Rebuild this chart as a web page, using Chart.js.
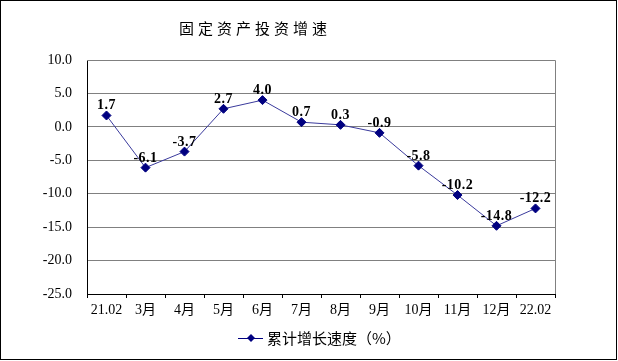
<!DOCTYPE html>
<html>
<head>
<meta charset="utf-8">
<script src="https://cdn.jsdelivr.net/npm/chart.js@4"></script>
<style>
  html, body { margin: 0; padding: 0; background: #fff; }
  .wrap { position: relative; width: 618px; height: 361px; }
  .frame { position: absolute; left: 0; top: 0; width: 617px; height: 360px; border: 1px solid #000; box-sizing: border-box; pointer-events: none; }
</style>
</head>
<body>
<div class="wrap">
  <canvas id="main-chart" width="618" height="361"></canvas>
  <div class="frame"></div>
</div>
<script>
// ---- Data ----
const categories = ['21.02', '3月', '4月', '5月', '6月', '7月', '8月', '9月', '10月', '11月', '12月', '22.02'];
const growth     = [1.7, -6.1, -3.7, 2.7, 4.0, 0.7, 0.3, -0.9, -5.8, -10.2, -14.8, -12.2];
const yTicks     = [10, 5, 0, -5, -10, -15, -20, -25];
const chartTitle = '固定资产投资增速';
const seriesName = '累计增长速度（%）';

const SERIF = "'Liberation Serif', 'Noto Sans CJK SC', serif";
const CJK   = "'Noto Sans CJK SC', sans-serif";
const LINE_COL = '#3a3a9c';
const MARK_COL = '#000080';

const canvas = document.getElementById('main-chart');

new Chart(canvas, {
  type: 'line',
  data: {
    labels: categories,
    datasets: [{
      label: seriesName,
      data: growth,
      borderColor: LINE_COL,
      borderWidth: 1,
      pointStyle: 'rectRot',
      pointRadius: 4.5,
      pointBackgroundColor: MARK_COL,
      pointBorderColor: MARK_COL,
      pointBorderWidth: 1,
      tension: 0,
    }]
  },
  options: {
    responsive: false,
    animation: false,
    devicePixelRatio: 1,
    layout: { padding: { left: 0, right: 63, top: 60, bottom: 37 } },
    plugins: {
      legend: { display: false },
      title: { display: false },
      tooltip: { enabled: false },
    },
    scales: {
      x: {
        offset: true,
        afterFit: s => { s.height = 30; },
        border: { display: true, color: '#000', width: 1 },
        grid: { offset: true, drawOnChartArea: false, drawTicks: true, tickLength: 4, color: '#000' },
        ticks: { color: '#000', font: { family: SERIF, size: 14 }, padding: 4, maxRotation: 0, autoSkip: false },
      },
      y: {
        min: -25, max: 10,
        afterFit: s => { s.width = 87; },
        afterBuildTicks: s => { s.ticks = yTicks.map(v => ({ value: v })); },
        border: { display: true, color: '#000', width: 1 },
        grid: { color: '#808080', drawTicks: false },
        ticks: {
          color: '#000',
          font: { family: SERIF, size: 14 },
          padding: 15,
          callback: v => Number(v).toFixed(1),
        },
      }
    }
  },
  plugins: [{
    id: 'decor',
    beforeDatasetsDraw(chart) {
      const { ctx, chartArea: { left, right, top, bottom } } = chart;
      ctx.save();
      ctx.strokeStyle = '#808080';
      ctx.lineWidth = 1;
      ctx.beginPath();
      ctx.moveTo(left, top + 0.5);
      ctx.lineTo(Math.round(right) + 0.5, top + 0.5);
      ctx.lineTo(Math.round(right) + 0.5, bottom);
      ctx.stroke();
      ctx.restore();
    },
    afterDatasetsDraw(chart) {
      const { ctx } = chart;
      const meta = chart.getDatasetMeta(0);
      ctx.save();
      // value labels
      ctx.fillStyle = '#000';
      ctx.font = "bold 14px " + SERIF;
      ctx.letterSpacing = '0.5px';
      ctx.textAlign = 'center';
      ctx.textBaseline = 'alphabetic';
      meta.data.forEach((pt, i) => {
        ctx.fillText(growth[i].toFixed(1), pt.x, pt.y - 6);
      });

      // title
      ctx.font = "15px " + CJK;
      ctx.letterSpacing = '4px';
      ctx.textAlign = 'center';
      ctx.textBaseline = 'middle';
      ctx.fillText(chartTitle, 255, 28);
      ctx.letterSpacing = '0px';

      // legend
      const ly = 338;
      ctx.strokeStyle = MARK_COL;
      ctx.lineWidth = 1;
      ctx.beginPath();
      ctx.moveTo(238, ly + 0.5);
      ctx.lineTo(263, ly + 0.5);
      ctx.stroke();
      ctx.fillStyle = MARK_COL;
      ctx.beginPath();
      ctx.moveTo(251, ly - 4);
      ctx.lineTo(255, ly);
      ctx.lineTo(251, ly + 4);
      ctx.lineTo(247, ly);
      ctx.closePath();
      ctx.fill();
      ctx.fillStyle = '#000';
      ctx.font = "15px " + CJK;
      ctx.textAlign = 'left';
      ctx.fillText(seriesName, 267, ly);
      ctx.restore();
    }
  }]
});
</script>
</body>
</html>
